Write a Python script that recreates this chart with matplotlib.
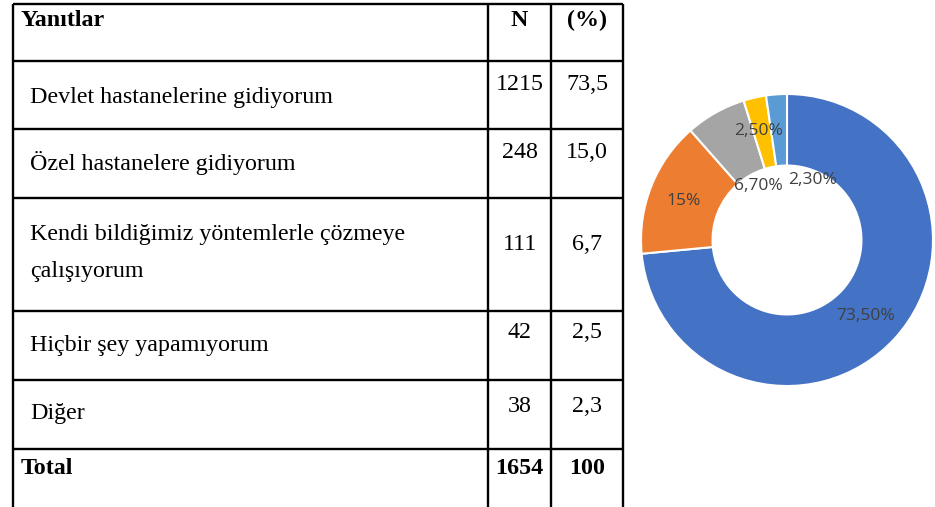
import matplotlib
matplotlib.use('Agg')
import matplotlib.pyplot as plt
import numpy as np

# table content
header = ['Yanıtlar', 'N', '(%)']
answers = ['Devlet hastanelerine gidiyorum',
           'Özel hastanelere gidiyorum',
           'Kendi bildiğimiz yöntemlerle çözmeye\nçalışıyorum',
           'Hiçbir şey yapamıyorum',
           'Diğer']
counts = ['1215', '248', '111', '42', '38']
percents = ['73,5', '15,0', '6,7', '2,5', '2,3']
total_row = ['Total', '1654', '100']

# donut values
pie_values = [73.5, 15, 6.7, 2.5, 2.3]
pie_labels = ['73,50%', '15%', '6,70%', '2,50%', '2,30%']
pie_colors = ['#4472C4', '#ED7D31', '#A5A5A5', '#FFC000', '#5B9BD5']

W, H = 935, 507
fig = plt.figure(figsize=(W/100, H/100), dpi=100)
fig.patch.set_facecolor('white')

#
# table, drawn in pixel coordinates
#
ax = fig.add_axes([0, 0, 1, 1])
ax.set_xlim(0, W)
ax.set_ylim(H, 0)
ax.axis('off')

col_x = [13, 488, 551, 623]
row_y = [4, 61, 129, 198, 311, 380, 449]
lw = 1.7
for x in col_x:
    ax.plot([x, x], [row_y[0], H + 5], color='black', lw=lw, solid_capstyle='butt')
for y in row_y:
    ax.plot([col_x[0], col_x[-1]], [y, y], color='black', lw=lw, solid_capstyle='butt')

serif = 'Liberation Serif'
fs = 17.3
ax.text(21, 20, header[0], fontsize=fs, fontweight='bold', family=serif, va='center', ha='left')
ax.text(519.5, 20, header[1], fontsize=fs, fontweight='bold', family=serif, va='center', ha='center')
ax.text(587, 20, header[2], fontsize=fs, fontweight='bold', family=serif, va='center', ha='center')

label_y = [97, 163, 253, 346, 414]
num_y = [84, 153, 244, 333, 406]
for i in range(len(answers)):
    ax.text(30, label_y[i], answers[i], fontsize=fs, family=serif, va='center', ha='left',
            linespacing=2.0)
    ax.text(519.5, num_y[i], counts[i], fontsize=fs, family=serif, va='center', ha='center')
    ax.text(587, num_y[i], percents[i], fontsize=fs, family=serif, va='center', ha='center')

ax.text(21, 468, total_row[0], fontsize=fs, fontweight='bold', family=serif, va='center', ha='left')
ax.text(519.5, 468, total_row[1], fontsize=fs, fontweight='bold', family=serif, va='center', ha='center')
ax.text(587, 468, total_row[2], fontsize=fs, fontweight='bold', family=serif, va='center', ha='center')

#
# donut chart
#
cx, cy, r = 787, 240, 146
pax = fig.add_axes([(cx - r)/W, (H - cy - r)/H, 2*r/W, 2*r/H])
wedges, _ = pax.pie(pie_values, colors=pie_colors, startangle=90, counterclock=False,
                    radius=1.0, wedgeprops=dict(width=0.49, edgecolor='white', linewidth=1.5))
pax.set_xlim(-1, 1)
pax.set_ylim(-1, 1)
pax.set_aspect('equal')
pax.axis('off')

# label radius and angle nudge (deg) per slice, like the moved labels in the original
lab_r = [0.75, 0.76, 0.42, 0.77, 0.45]
lab_da = [-2, 1, -1, 2, -27.5]
for w, lab, rr, da in zip(wedges, pie_labels, lab_r, lab_da):
    ang = np.deg2rad((w.theta1 + w.theta2)/2 + da)
    pax.text(rr*np.cos(ang), rr*np.sin(ang), lab, ha='center', va='center',
             fontsize=12.5, color='#404040', family='Open Sans')

fig.savefig('out.png', dpi=100, facecolor='white')
